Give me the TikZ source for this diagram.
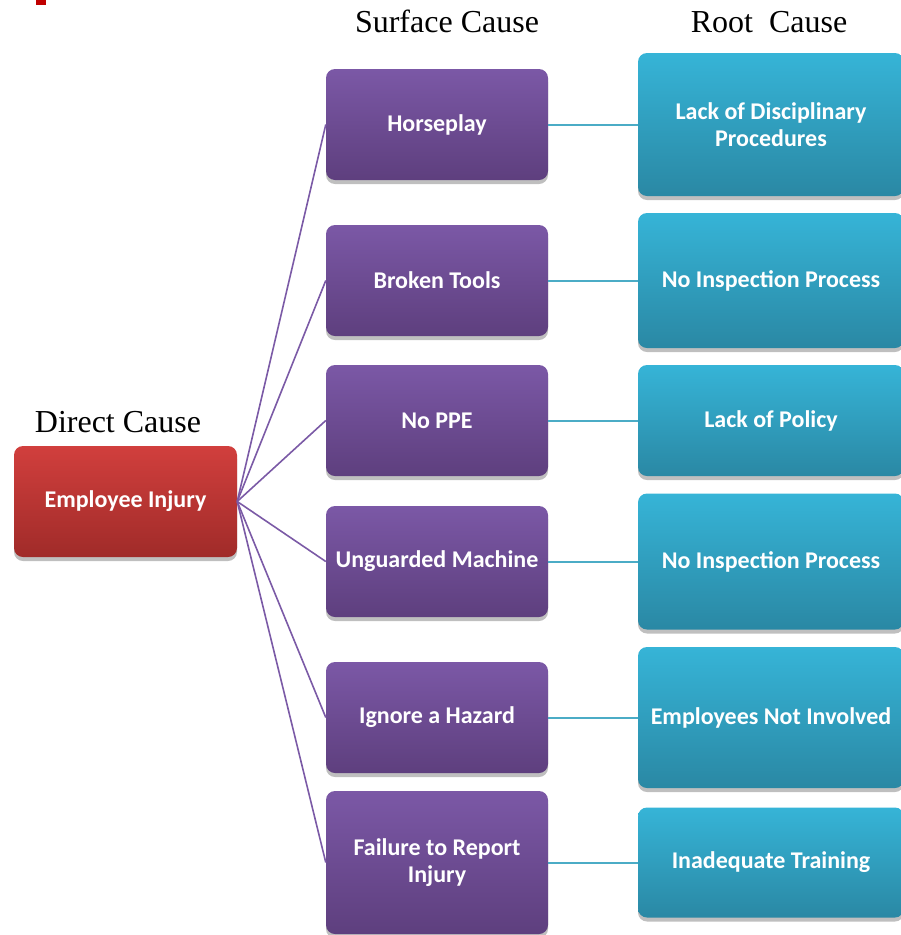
\documentclass[tikz,border=0pt]{standalone}
\usepackage{fontspec}
\setmainfont{Liberation Serif}
\newfontfamily\boxfont{Carlito}
\usetikzlibrary{shadows}
\definecolor{redtop}{HTML}{D13F3D}
\definecolor{redbot}{HTML}{A02B29}
\definecolor{purtop}{HTML}{7B58A6}
\definecolor{purbot}{HTML}{5E3F7E}
\definecolor{blutop}{HTML}{36B4D7}
\definecolor{blubot}{HTML}{2A88A4}
\definecolor{purline}{HTML}{7B5AA6}
\definecolor{bluline}{HTML}{4BACC6}
\definecolor{markred}{HTML}{C00000}
\tikzset{
  x=1pt, y=-1pt,
  basebox/.style={rectangle, rounded corners=9pt, inner sep=0pt, align=center,
    text=white, font=\boxfont\bfseries\fontsize{24}{27}\selectfont,
    drop shadow={shadow xshift=0pt, shadow yshift=-4pt, opacity=0.25, fill=black}},
  redbox/.style={basebox, top color=redtop, bottom color=redbot, minimum width=223pt, minimum height=111pt},
  purbox/.style={basebox, top color=purtop, bottom color=purbot, minimum width=222pt},
  blubox/.style={basebox, top color=blutop, bottom color=blubot, minimum width=266pt},
  header/.style={font=\fontsize{32}{36}\selectfont, text=black, inner sep=0pt, anchor=base},
  purlink/.style={draw=purline, line width=1.6pt},
  blulink/.style={draw=bluline, line width=2pt}
}
\begin{document}
\begin{tikzpicture}
\useasboundingbox (0,0) rectangle (901,935);
\fill[markred] (36,0) rectangle (46,5);

\node[header] (hs) at (447,32) {Surface Cause};
\node[header] (hr) at (769,32) {Root\ \ Cause};
\node[header] (hd) at (118,432) {Direct Cause};

\node[redbox] (emp) at (125.5,501.5) {Employee Injury};

\node[purbox, minimum height=111pt] (p1) at (437,124.5) {Horseplay};
\node[purbox, minimum height=111pt] (p2) at (437,280.5) {Broken Tools};
\node[purbox, minimum height=111pt] (p3) at (437,420.5) {No PPE};
\node[purbox, minimum height=111pt] (p4) at (437,561.5) {Unguarded Machine};
\node[purbox, minimum height=111pt] (p5) at (437,717.5) {Ignore a Hazard};
\node[purbox, minimum height=143pt] (p6) at (437,862.5) {Failure to Report\\Injury};

\node[blubox, minimum height=143pt] (b1) at (771,124.5) {Lack of Disciplinary\\Procedures};
\node[blubox, minimum height=135pt] (b2) at (771,280.5) {No Inspection Process};
\node[blubox, minimum height=111pt] (b3) at (771,420.5) {Lack of Policy};
\node[blubox, minimum height=136pt] (b4) at (771,561.5) {No Inspection Process};
\node[blubox, minimum height=141pt] (b5) at (771,717.5) {Employees Not Involved};
\node[blubox, minimum height=110pt] (b6) at (771,862.5) {Inadequate Training};

\foreach \i in {1,...,6} {
  \draw[purlink] (emp.east) -- (p\i.west);
  \draw[blulink] (p\i.east) -- (b\i.west);
}
\end{tikzpicture}
\end{document}
